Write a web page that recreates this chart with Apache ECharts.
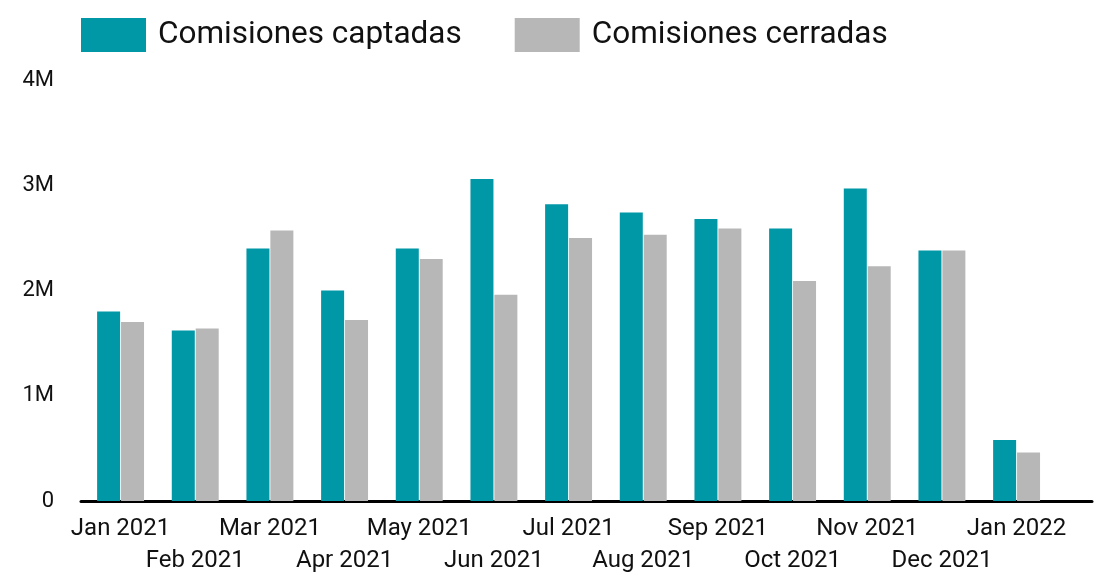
<!DOCTYPE html>
<html>
<head>
<meta charset="utf-8">
<script src="https://cdn.jsdelivr.net/npm/echarts@6/dist/echarts.min.js"></script>
<style>
html, body { margin: 0; padding: 0; background: #fff; }
#chart { width: 1109px; height: 577px; }
</style>
</head>
<body>
<div id="chart"></div>
<script>
// datos (en euros)
const months = ['Jan 2021', 'Feb 2021', 'Mar 2021', 'Apr 2021', 'May 2021', 'Jun 2021', 'Jul 2021',
    'Aug 2021', 'Sep 2021', 'Oct 2021', 'Nov 2021', 'Dec 2021', 'Jan 2022'];
const captadas = [1800000, 1620000, 2400000, 2000000, 2400000, 3060000, 2820000,
    2740000, 2680000, 2590000, 2970000, 2380000, 580000];
const cerradas = [1700000, 1640000, 2570000, 1720000, 2300000, 1960000, 2500000,
    2530000, 2590000, 2090000, 2230000, 2380000, 460000];

const chart = echarts.init(document.getElementById('chart'));

const font = 'Roboto, "Noto Sans", sans-serif';
const evenIdx = months.map(function (m, i) { return i; }).filter(function (i) { return i % 2 === 0; });
const oddIdx = months.map(function (m, i) { return i; }).filter(function (i) { return i % 2 === 1; });

// dos ejes x superpuestos: uno para la fila de arriba de etiquetas y otro para la de abajo
function monthAxis(values, margin, showLine) {
    return {
        type: 'value',
        position: 'bottom',
        min: -0.53,
        max: 13.01,
        splitLine: { show: false },
        axisTick: { show: false },
        axisLine: {
            show: showLine,
            onZero: false,
            lineStyle: { color: '#000', width: 3 }
        },
        axisLabel: {
            customValues: values,
            showMinLabel: true,
            showMaxLabel: true,
            hideOverlap: false,
            margin: margin,
            fontFamily: font,
            fontSize: 24,
            color: '#111',
            formatter: function (v) {
                return months[Math.round(v)];
            }
        }
    };
}

chart.setOption({
    animation: false,
    legend: {
        left: 81,
        top: 18,
        padding: 0,
        itemWidth: 65,
        itemHeight: 34,
        itemGap: 53,
        icon: 'rect',
        textStyle: {
            fontFamily: font,
            fontSize: 31.5,
            color: '#111',
            padding: [0, 0, 0, 7]
        }
    },
    grid: {
        left: 81,
        right: 17,
        top: 80,
        bottom: 76
    },
    xAxis: [
        monthAxis(evenIdx, 16, true),
        monthAxis(oddIdx, 48, false)
    ],
    yAxis: {
        type: 'value',
        min: 0,
        max: 4000000,
        interval: 1000000,
        splitLine: { show: false },
        axisLine: { show: false },
        axisTick: { show: false },
        axisLabel: {
            margin: 27,
            fontFamily: font,
            fontSize: 22,
            color: '#111',
            formatter: function (v) {
                return v === 0 ? '0' : (v / 1000000) + 'M';
            }
        }
    },
    series: [
        {
            name: 'Comisiones captadas',
            type: 'bar',
            barWidth: 23,
            barGap: '4%',
            itemStyle: { color: '#0097A7' },
            data: captadas.map(function (v, i) { return [i, v]; })
        },
        {
            name: 'Comisiones cerradas',
            type: 'bar',
            barWidth: 23,
            barGap: '4%',
            itemStyle: { color: '#B7B7B7' },
            data: cerradas.map(function (v, i) { return [i, v]; })
        }
    ]
});
</script>
</body>
</html>
